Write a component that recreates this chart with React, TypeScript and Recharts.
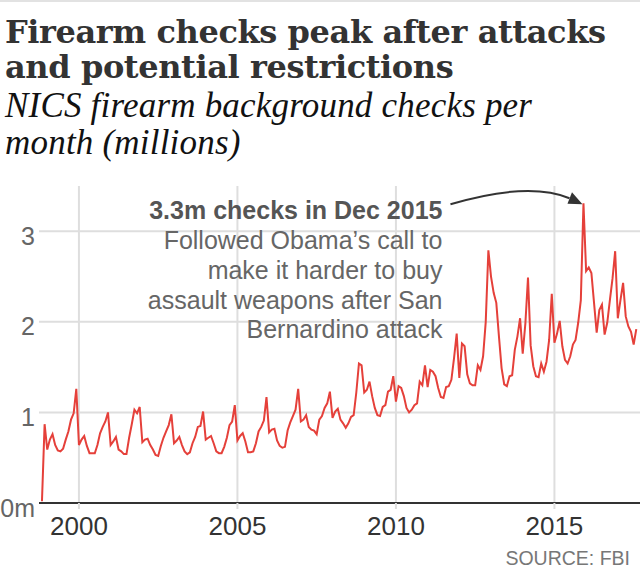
import React from "react";
import { LineChart, Line, XAxis, YAxis, ReferenceLine, ReferenceDot } from "recharts";

// NICS firearm background checks per month, millions
const firstYear = 1998;
const firstMonth = 11;
const checks1998 = [0.02, 0.87];
const checks1999 = [0.59, 0.7, 0.76, 0.64, 0.58, 0.57, 0.6, 0.7, 0.79, 0.92, 0.99, 1.26];
const checks2000 = [0.64, 0.7, 0.74, 0.63, 0.55, 0.55, 0.55, 0.64, 0.77, 0.84, 0.9, 1.0];
const checks2001 = [0.64, 0.68, 0.73, 0.59, 0.57, 0.54, 0.54, 0.72, 0.87, 1.03, 0.99, 1.06];
const checks2002 = [0.67, 0.7, 0.71, 0.64, 0.59, 0.53, 0.52, 0.63, 0.72, 0.79, 0.86, 0.98];
const checks2003 = [0.66, 0.69, 0.73, 0.64, 0.57, 0.54, 0.56, 0.66, 0.73, 0.84, 0.85, 1.01];
const checks2004 = [0.7, 0.72, 0.74, 0.66, 0.57, 0.55, 0.55, 0.62, 0.72, 0.86, 0.9, 1.08];
const checks2005 = [0.69, 0.74, 0.77, 0.68, 0.56, 0.56, 0.57, 0.66, 0.79, 0.84, 0.91, 1.17];
const checks2006 = [0.78, 0.81, 0.82, 0.69, 0.63, 0.61, 0.62, 0.8, 0.89, 0.96, 1.03, 1.26];
const checks2007 = [0.9, 0.92, 0.97, 0.84, 0.81, 0.8, 0.76, 0.92, 0.96, 1.05, 1.1, 1.23];
const checks2008 = [0.94, 1.01, 1.04, 0.92, 0.88, 0.83, 0.88, 0.95, 0.97, 1.22, 1.54, 1.52];
const checks2009 = [1.22, 1.25, 1.34, 1.18, 1.05, 0.97, 0.96, 1.06, 1.08, 1.23, 1.25, 1.4];
const checks2010 = [1.12, 1.29, 1.27, 1.18, 1.05, 1.0, 1.03, 1.08, 1.1, 1.34, 1.3, 1.52];
const checks2011 = [1.28, 1.47, 1.45, 1.4, 1.27, 1.17, 1.16, 1.28, 1.29, 1.36, 1.6, 1.87];
const checks2012 = [1.38, 1.76, 1.73, 1.42, 1.32, 1.3, 1.3, 1.52, 1.47, 1.62, 2.0, 2.79];
const checks2013 = [2.5, 2.32, 2.21, 1.84, 1.49, 1.31, 1.29, 1.4, 1.41, 1.69, 1.84, 2.04];
const checks2014 = [1.65, 1.98, 2.49, 1.74, 1.51, 1.4, 1.39, 1.54, 1.45, 1.56, 1.8, 2.31];
const checks2015 = [1.77, 1.87, 2.01, 1.73, 1.58, 1.54, 1.62, 1.75, 1.8, 1.99, 2.24, 3.31];
const checks2016 = [2.56, 2.6, 2.54, 2.21, 1.88, 2.13, 2.19, 1.86, 1.99, 2.24, 2.48, 2.78];
const checks2017 = [2.04, 2.24, 2.43, 2.06, 1.95, 1.89, 1.75, 1.92];

const yearTicks = [2000, 2005, 2010, 2015];
const valueTicks = [0, 1, 2, 3];
const gridValues = [1, 2, 3];
const titleLines = ["Firearm checks peak after attacks", "and potential restrictions"];
const subtitleLines = ["NICS firearm background checks per", "month (millions)"];
const annotationTitle = "3.3m checks in Dec 2015";
const annotationLines = [
  "Followed Obama\u2019s call to",
  "make it harder to buy",
  "assault weapons after San",
  "Bernardino attack",
];

const monthlyChecks = [
  ...checks1998, ...checks1999, ...checks2000, ...checks2001, ...checks2002,
  ...checks2003, ...checks2004, ...checks2005, ...checks2006, ...checks2007,
  ...checks2008, ...checks2009, ...checks2010, ...checks2011, ...checks2012,
  ...checks2013, ...checks2014, ...checks2015, ...checks2016, ...checks2017,
];

const data = monthlyChecks.map((v, i) => {
  const idx = firstMonth - 1 + i;
  return { t: firstYear + Math.floor(idx / 12) + (idx % 12) / 12, checks: v };
});

const peak = data.reduce((a, b) => (b.checks > a.checks ? b : a));

const sans = "'Liberation Sans', Arial, sans-serif";
const gridColor = "#dedede";

const XTick = (props: any) => (
  <text x={props.x} y={props.y} dy={24} textAnchor="middle" fill="#333" fontSize={26} fontFamily={sans}>
    {props.payload.value}
  </text>
);

const YTick = (props: any) => (
  <text x={props.x} y={props.y} dy={13.5} textAnchor="end" fill="#666" fontSize={25} fontFamily={sans}>
    {props.payload.value === 0 ? "0m" : props.payload.value}
  </text>
);

const PeakNote = (props: any) => {
  const { cx, cy } = props;
  const tx = cx - 141;
  return (
    <g>
      <path
        d={`M${cx - 133},${cy + 1} Q${cx - 55},${cy - 22} ${cx - 14},${cy - 5}`}
        fill="none"
        stroke="#333"
        strokeWidth={2}
      />
      <path d={`M${cx - 1},${cy + 1} L${cx - 16},${cy + 0.5} L${cx - 11.5},${cy - 11} Z`} fill="#333" />
      <text x={tx} y={cy + 16} textAnchor="end" fill="#555" fontSize={25} fontWeight="bold" fontFamily={sans}>
        {annotationTitle}
      </text>
      {annotationLines.map((line, i) => (
        <text key={i} x={tx} y={cy + 46 + i * 29.7} textAnchor="end" fill="#666" fontSize={25} fontFamily={sans}>
          {line}
        </text>
      ))}
    </g>
  );
};

export default function App() {
  return (
    <div style={{ position: "absolute", left: 0, top: 0, width: 640, height: 578, background: "#fff", overflow: "hidden" }}>
      <div style={{ position: "absolute", left: 0, top: 0, width: 640, height: 2, background: "#e2e2e2" }} />
      {titleLines.map((line, i) => (
        <div
          key={i}
          style={{
            position: "absolute",
            left: 5,
            top: 15 + i * 35,
            height: 35,
            fontFamily: "'DejaVu Serif', serif",
            fontWeight: "bold",
            fontSize: 32,
            letterSpacing: -0.4,
            lineHeight: "35px",
            color: "#333",
            whiteSpace: "nowrap",
          }}
        >
          {line}
        </div>
      ))}
      {subtitleLines.map((line, i) => (
        <div
          key={i}
          style={{
            position: "absolute",
            left: 5,
            top: 88 + i * 37,
            height: 35,
            fontFamily: "'Liberation Serif', serif",
            fontStyle: "italic",
            fontSize: 35,
            letterSpacing: 0.2,
            lineHeight: "35px",
            color: "#111",
            whiteSpace: "nowrap",
          }}
        >
          {line}
        </div>
      ))}
      <div style={{ position: "absolute", top: 180, left: 0 }}>
        <LineChart width={640} height={398} data={data} margin={{ top: 6, right: 0, bottom: 35, left: 0 }}>
          <XAxis
            dataKey="t"
            type="number"
            domain={[1998.74, 2017.7]}
            ticks={yearTicks}
            allowDataOverflow
            height={40}
            axisLine={{ stroke: "#333", strokeWidth: 2 }}
            tickLine={{ stroke: gridColor, strokeWidth: 2 }}
            tickSize={6}
            tick={<XTick />}
          />
          <YAxis
            type="number"
            domain={[0, 3.5]}
            ticks={valueTicks}
            width={39}
            axisLine={false}
            tickLine={false}
            tickSize={0}
            tickMargin={4}
            tick={<YTick />}
          />
          {gridValues.map((v) => (
            <ReferenceLine key={`h${v}`} y={v} stroke={gridColor} strokeWidth={2} />
          ))}
          {yearTicks.map((v) => (
            <ReferenceLine key={`v${v}`} x={v} stroke={gridColor} strokeWidth={2} />
          ))}
          <Line
            type="linear"
            dataKey="checks"
            stroke="#e5403a"
            strokeWidth={2}
            dot={false}
            isAnimationActive={false}
          />
          <ReferenceDot x={peak.t} y={peak.checks} ifOverflow="visible" shape={<PeakNote />} />
        </LineChart>
      </div>
      <div
        style={{
          position: "absolute",
          right: 10,
          top: 547,
          fontFamily: sans,
          fontSize: 19.5,
          color: "#777",
          whiteSpace: "nowrap",
        }}
      >
        SOURCE: FBI
      </div>
    </div>
  );
}
